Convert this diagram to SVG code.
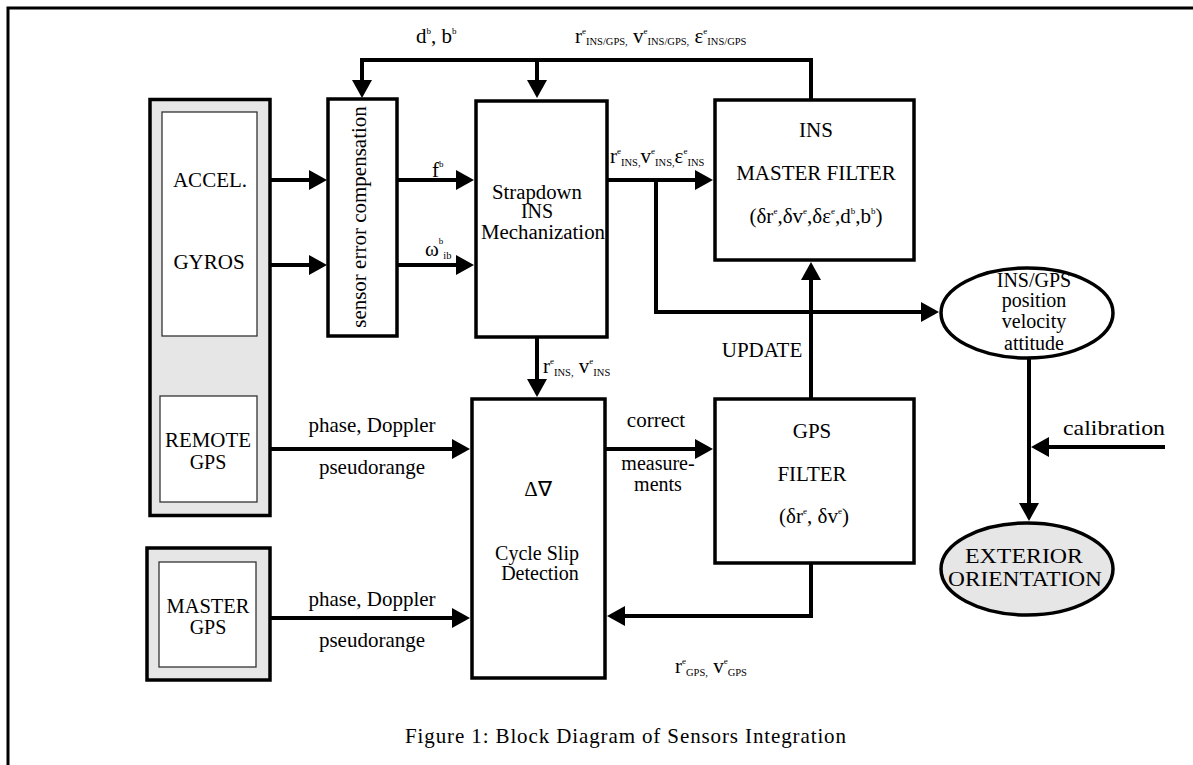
<svg xmlns="http://www.w3.org/2000/svg" width="1193" height="765" viewBox="0 0 1193 765">
<style>
text{font-family:"Liberation Serif","Times New Roman",serif;font-size:21px;fill:#000}
.m{text-anchor:middle}
.st{font-size:20px}
.sup{font-size:9px}
.sub{font-size:10.5px}
.box{fill:#fff;stroke:#000;stroke-width:3.5}
.gbox{fill:#e6e6e6;stroke:#000;stroke-width:3.5}
.inner{fill:#fff;stroke:#333;stroke-width:1.3}
.ell{fill:#fff;stroke:#000;stroke-width:3.5}
.gell{fill:#e6e6e6;stroke:#000;stroke-width:3.5}
.c{fill:none;stroke:#000;stroke-width:4}
.a{marker-end:url(#ah)}
</style>
<defs>
<marker id="ah" markerUnits="userSpaceOnUse" markerWidth="18" markerHeight="20" viewBox="0 0 18 20" refX="10" refY="10" orient="auto">
<path d="M0,0 L18,10 L0,20 z" fill="#000"/>
</marker>
</defs>
<rect x="8" y="8" width="1200" height="800" fill="#fff" stroke="#000" stroke-width="3"/>

<g id="imu">
<rect class="gbox" x="150" y="99.5" width="120" height="416"/>
<rect class="inner" x="162" y="112" width="95" height="224"/>
<text class="m" x="210" y="187">ACCEL.</text>
<text class="m" x="209" y="269">GYROS</text>
</g>
<g id="remote-gps">
<rect class="inner" x="160" y="396" width="97" height="106"/>
<text class="m st" x="208" y="447" textLength="86" lengthAdjust="spacingAndGlyphs">REMOTE</text>
<text class="m st" x="208" y="469">GPS</text>
</g>
<g id="master-gps">
<rect class="gbox" x="147" y="548" width="123" height="132"/>
<rect class="inner" x="159" y="562" width="97" height="105"/>
<text class="m st" x="208" y="613" textLength="83" lengthAdjust="spacingAndGlyphs">MASTER</text>
<text class="m st" x="208" y="634">GPS</text>
</g>
<g id="sensor-comp">
<rect class="box" x="328" y="99" width="69" height="237"/>
<text class="m" transform="translate(366,217) rotate(-90)">sensor error compensation</text>
</g>
<g id="strapdown">
<rect class="box" x="476" y="101" width="131" height="236"/>
<text class="m st" x="537" y="199" textLength="90" lengthAdjust="spacingAndGlyphs">Strapdown</text>
<text class="m st" x="537" y="218">INS</text>
<text class="m st" x="543" y="239" textLength="124" lengthAdjust="spacingAndGlyphs">Mechanization</text>
</g>
<g id="ins-filter">
<rect class="box" x="715" y="100" width="199" height="160"/>
<text class="m" x="816" y="137">INS</text>
<text class="m" x="816" y="180">MASTER FILTER</text>
<text class="m" x="816" y="223">(δr<tspan class="sup" dy="-9">e</tspan><tspan dy="9">,δv</tspan><tspan class="sup" dy="-9">e</tspan><tspan dy="9">,δε</tspan><tspan class="sup" dy="-9">e</tspan><tspan dy="9">,d</tspan><tspan class="sup" dy="-9">b</tspan><tspan dy="9">,b</tspan><tspan class="sup" dy="-9">b</tspan><tspan dy="9">)</tspan></text>
</g>
<g id="cycle-slip">
<rect class="box" x="472" y="399" width="133" height="279"/>
<text class="m" x="538" y="496">Δ∇</text>
<text class="m st" x="537" y="560">Cycle Slip</text>
<text class="m st" x="540" y="580">Detection</text>
</g>
<g id="gps-filter">
<rect class="box" x="715" y="399" width="199" height="164"/>
<text class="m" x="812" y="438">GPS</text>
<text class="m" x="812" y="481">FILTER</text>
<text class="m" x="814" y="523">(δr<tspan class="sup" dy="-9">e</tspan><tspan dy="9">, δv</tspan><tspan class="sup" dy="-9">e</tspan><tspan dy="9">)</tspan></text>
</g>
<g id="ins-gps-out">
<ellipse class="ell" cx="1027" cy="313" rx="86" ry="45"/>
<text class="m st" x="1034" y="287">INS/GPS</text>
<text class="m st" x="1034" y="307">position</text>
<text class="m st" x="1034" y="328">velocity</text>
<text class="m st" x="1034" y="350">attitude</text>
</g>
<g id="exterior">
<ellipse class="gell" cx="1027" cy="569" rx="86" ry="46"/>
<text class="m" x="1024" y="563" textLength="118" lengthAdjust="spacingAndGlyphs">EXTERIOR</text>
<text class="m" x="1025" y="586" textLength="154" lengthAdjust="spacingAndGlyphs">ORIENTATION</text>
</g>

<g id="connectors">
<polyline class="c" points="811,99 811,60 362,60 362,90" style="marker-end:url(#ah)"/>
<line class="c a" x1="537" y1="60" x2="537" y2="90"/>
<line class="c a" x1="270" y1="180" x2="319" y2="180"/>
<line class="c a" x1="270" y1="265" x2="319" y2="265"/>
<line class="c a" x1="397" y1="180" x2="466" y2="180"/>
<line class="c a" x1="397" y1="265" x2="466" y2="265"/>
<line class="c a" x1="607" y1="180" x2="705" y2="180"/>
<polyline class="c" points="656,180 656,312 931,312" style="marker-end:url(#ah)"/>
<line class="c a" x1="537" y1="337" x2="537" y2="389"/>
<line class="c a" x1="270" y1="449" x2="462" y2="449"/>
<line class="c a" x1="270" y1="618" x2="462" y2="618"/>
<line class="c a" x1="605" y1="449" x2="705" y2="449"/>
<polyline class="c" points="811,563 811,616 615,616" style="marker-end:url(#ah)"/>
<line class="c a" x1="811" y1="399" x2="811" y2="270"/>
<line class="c a" x1="1029" y1="358" x2="1029" y2="513"/>
<line class="c a" x1="1165" y1="447" x2="1039" y2="447"/>
</g>

<g id="labels">
<text x="416" y="43">d<tspan class="sup" dy="-9">b</tspan><tspan dy="9">, b</tspan><tspan class="sup" dy="-9">b</tspan></text>
<text x="575" y="43">r<tspan class="sup" dy="-9">e</tspan><tspan class="sub" dy="11">INS/GPS,</tspan><tspan dy="-2"> v</tspan><tspan class="sup" dy="-9">e</tspan><tspan class="sub" dy="11">INS/GPS,</tspan><tspan dy="-2"> ε</tspan><tspan class="sup" dy="-9">e</tspan><tspan class="sub" dy="11">INS/GPS</tspan></text>
<text x="432" y="177">f<tspan class="sup" dy="-10">b</tspan></text>
<text x="425" y="256">ω<tspan class="sup" dy="-12">b</tspan><tspan class="sub" dy="15">ib</tspan></text>
<text x="610" y="163">r<tspan class="sup" dy="-9">e</tspan><tspan class="sub" dy="12">INS,</tspan><tspan dy="-3">v</tspan><tspan class="sup" dy="-9">e</tspan><tspan class="sub" dy="12">INS,</tspan><tspan dy="-3">ε</tspan><tspan class="sup" dy="-9">e</tspan><tspan class="sub" dy="12">INS</tspan></text>
<text x="543" y="373">r<tspan class="sup" dy="-9">e</tspan><tspan class="sub" dy="12">INS,</tspan><tspan dy="-3"> v</tspan><tspan class="sup" dy="-9">e</tspan><tspan class="sub" dy="12">INS</tspan></text>
<text class="m" x="372" y="432">phase, Doppler</text>
<text class="m" x="372" y="474">pseudorange</text>
<text class="m" x="372" y="606">phase, Doppler</text>
<text class="m" x="372" y="647">pseudorange</text>
<text class="m" x="656" y="427">correct</text>
<text class="m st" x="658" y="470">measure-</text>
<text class="m st" x="658" y="491">ments</text>
<text class="m" x="762" y="357">UPDATE</text>
<text x="1063" y="435" textLength="102" lengthAdjust="spacingAndGlyphs">calibration</text>
<text x="675" y="673">r<tspan class="sup" dy="-9">e</tspan><tspan class="sub" dy="12">GPS,</tspan><tspan dy="-3"> v</tspan><tspan class="sup" dy="-9">e</tspan><tspan class="sub" dy="12">GPS</tspan></text>
<text x="405" y="743" textLength="441">Figure 1: Block Diagram of Sensors Integration</text>
</g>
</svg>
